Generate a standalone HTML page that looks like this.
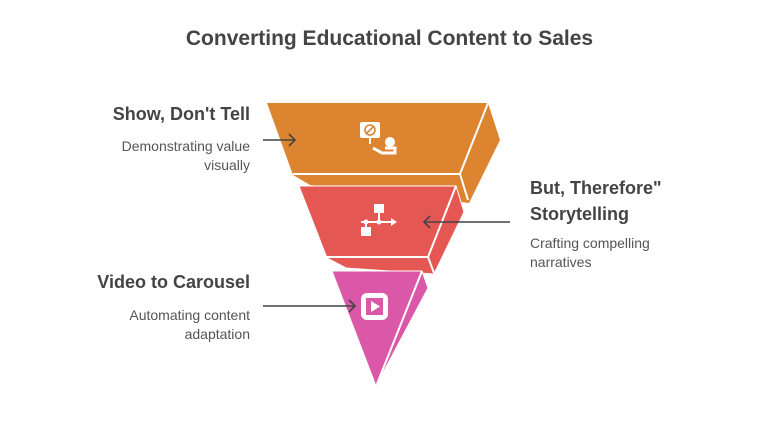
<!DOCTYPE html>
<html><head><meta charset="utf-8"><style>
body{margin:0;width:779px;height:438px;background:#fff;overflow:hidden;font-family:"Liberation Sans",sans-serif;}
.t{position:absolute;color:#444;}
.h{font-weight:bold;font-size:18px;}
.b{font-size:14px;line-height:19px;color:#555;}
.r{text-align:right;}
</style></head><body>
<div class="t" style="left:0;width:779px;top:27px;text-align:center;font-weight:bold;font-size:21px;">Converting Educational Content to Sales</div>
<div class="t h r" style="left:40px;width:210px;top:104px;">Show, Don't Tell</div>
<div class="t b r" style="left:40px;width:210px;top:137px;">Demonstrating value<br>visually</div>
<div class="t h" style="left:530px;top:175px;line-height:26px;">But, Therefore"<br>Storytelling</div>
<div class="t b" style="left:530px;top:234px;">Crafting compelling<br>narratives</div>
<div class="t h r" style="left:40px;width:210px;top:272px;">Video to Carousel</div>
<div class="t b r" style="left:40px;width:210px;top:306px;">Automating content<br>adaptation</div>
<svg width="779" height="438" style="position:absolute;left:0;top:0">
<polygon points="267,103 488,103 500,140 469,203 310,185 293,175" fill="#dd8430"/>
<polyline points="293,174 460,174 488,103" fill="none" stroke="#fff" stroke-width="2"/>
<line x1="460" y1="174" x2="468" y2="200" stroke="#fff" stroke-width="2"/>
<polygon points="299,186 456,186 464,212 434,274 346,268 327,258" fill="#e55753" stroke="#fff" stroke-width="1"/>
<polyline points="327,257 428,257 456,186" fill="none" stroke="#fff" stroke-width="2"/>
<line x1="428" y1="257" x2="434" y2="273" stroke="#fff" stroke-width="2"/>
<polygon points="332,271 422,271 428,288 376,386" fill="#db57a8" stroke="#fff" stroke-width="1"/>
<line x1="422" y1="271" x2="377" y2="384" stroke="#fff" stroke-width="2"/>
<!-- icon 1 -->
<rect x="360" y="122" width="20" height="16" rx="2" fill="#fff"/>
<circle cx="370" cy="130" r="5" fill="none" stroke="#dd8430" stroke-width="1.6"/>
<line x1="367" y1="133" x2="373" y2="127" stroke="#dd8430" stroke-width="1.6"/>
<line x1="370" y1="138" x2="370" y2="144" stroke="#fff" stroke-width="2"/>
<circle cx="390" cy="142" r="5" fill="#fff"/>
<path d="M373 148 L382 153 L395 153 L395 148 L385 148" fill="none" stroke="#fff" stroke-width="3"/>
<!-- icon 2 -->
<rect x="374" y="204" width="10" height="9" fill="#fff"/>
<rect x="361" y="227" width="10" height="9" fill="#fff"/>
<path d="M379 213 V222 M361 222 H393 M366 222 V227" stroke="#fff" stroke-width="2" fill="none"/>
<polygon points="391,218 397,222 391,226" fill="#fff"/>
<circle cx="366" cy="222" r="2.5" fill="#fff"/><circle cx="379" cy="222" r="2.5" fill="#fff"/>
<!-- icon 3 -->
<rect x="361" y="293" width="27" height="27" rx="6" fill="#fff"/>
<rect x="366" y="298" width="17" height="17" fill="#db57a8"/>
<polygon points="371,301 380,306.5 371,312" fill="#fff"/>
<!-- arrows -->
<g stroke="#444" stroke-width="1.6" fill="none">
<line x1="263" y1="140" x2="295" y2="140"/><polyline points="289,134 295,140 289,146"/>
<line x1="510" y1="222" x2="424" y2="222"/><polyline points="430,216 424,222 430,228"/>
<line x1="263" y1="306" x2="355" y2="306"/><polyline points="349,300 355,306 349,312"/>
</g>
</svg>
</body></html>
